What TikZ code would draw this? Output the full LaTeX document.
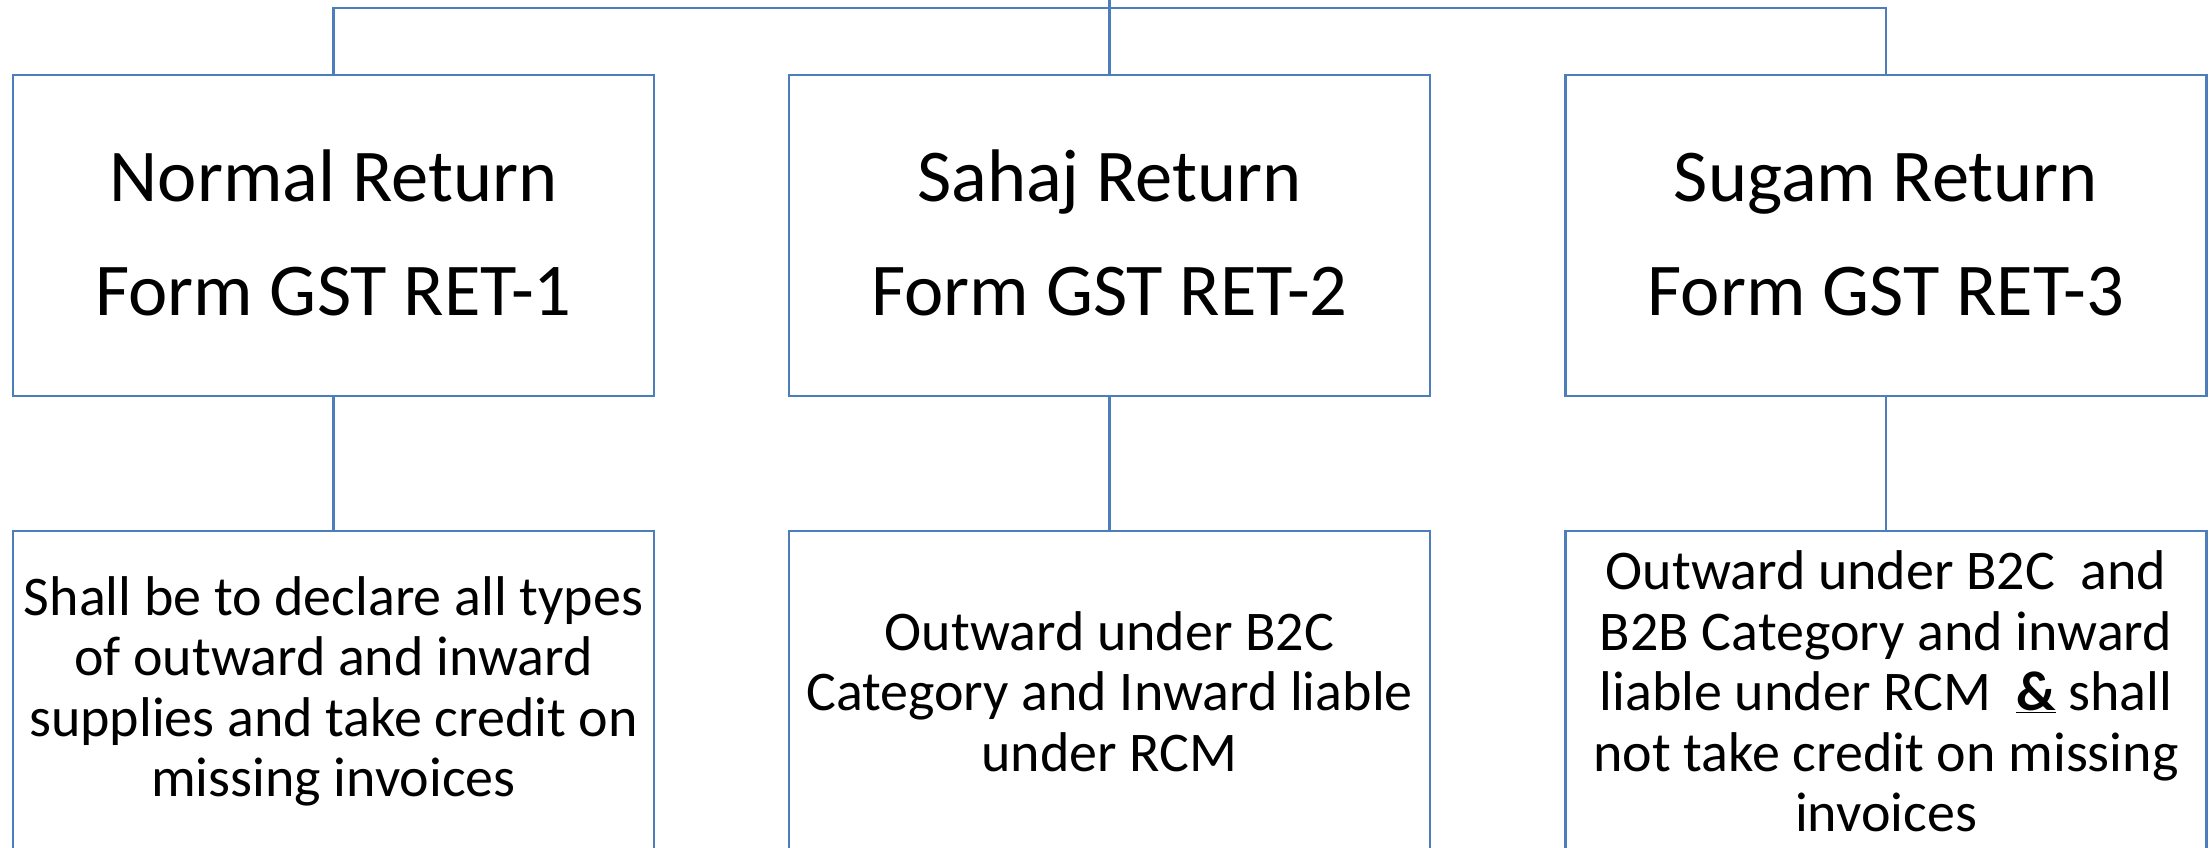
\documentclass[tikz,border=0pt]{standalone}
\usepackage{fontspec}
\setmainfont{Carlito}
\definecolor{linkblue}{RGB}{76,126,187}
\tikzset{
  x=1pt, y=-1pt,
  titlebox/.style={draw=linkblue, line width=2.8pt, rectangle, inner sep=0pt,
    minimum width=641pt, minimum height=321pt, align=center, text=black,
    font=\fontsize{74.5}{114}\selectfont},
  descbox/.style={draw=linkblue, line width=2.8pt, rectangle, inner sep=0pt,
    minimum width=641pt, minimum height=321pt, align=center, text=black,
    font=\fontsize{56}{60.5}\selectfont},
  link/.style={draw=linkblue, line width=2.8pt}
}
\begin{document}
\begin{tikzpicture}
\useasboundingbox (0,0) rectangle (2211,848);
\clip (0,0) rectangle (2211,848);
\node[titlebox] (b1) at (333.5,235.5) {\raisebox{5pt}{\begin{tabular}{@{}c@{}}Normal Return\\Form GST RET-1\end{tabular}}};
\node[titlebox] (b2) at (1109.5,235.5) {\raisebox{5pt}{\begin{tabular}{@{}c@{}}Sahaj Return\\Form GST RET-2\end{tabular}}};
\node[titlebox] (b3) at (1886,235.5) {\raisebox{5pt}{\begin{tabular}{@{}c@{}}Sugam Return\\Form GST RET-3\end{tabular}}};
\node[descbox] (d1) at (333.5,691.5) {Shall be to declare all types\\of outward and inward\\supplies and take credit on\\missing invoices};
\node[descbox] (d2) at (1109.5,691.5) {Outward under B2C\\Category and Inward liable\\under RCM};
\node[descbox] (d3) at (1886,691.5) {Outward under B2C\ \ and\\B2B Category and inward\\liable under RCM\ \ \textbf{\underline{\&}} shall\\not take credit on missing\\invoices};
\coordinate (top) at (1109.5,-5);
\coordinate (hub) at (1109.5,8);
\path[link] (b1.north) |- (hub) -| (b3.north);
\path[link] (top) -- (b2.north);
\path[link] (b1.south) -- (d1.north);
\path[link] (b2.south) -- (d2.north);
\path[link] (b3.south) -- (d3.north);
\end{tikzpicture}
\end{document}
